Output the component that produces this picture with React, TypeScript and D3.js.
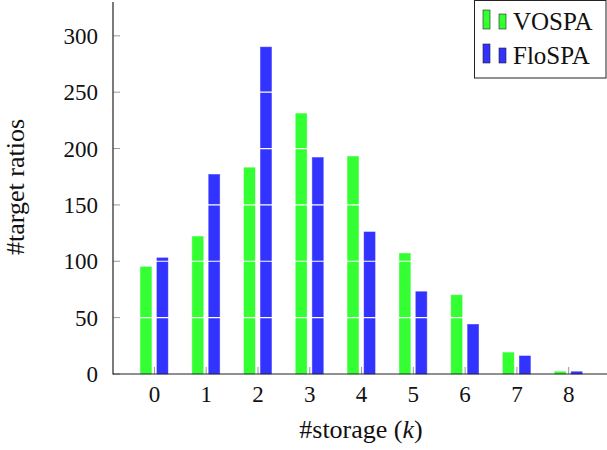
import React from "react";
import * as d3 from "d3";

const categories = [0, 1, 2, 3, 4, 5, 6, 7, 8];
const vospa = [95, 122, 183, 231, 193, 107, 70, 19, 2];
const flospa = [103, 177, 290, 192, 126, 73, 44, 16, 2];
const yTicks = [0, 50, 100, 150, 200, 250, 300];
const seriesNames = ["VOSPA", "FloSPA"];
const seriesColors = ["#33ff33", "#3333ff"];

const W = 607;
const H = 450;
const font = "Liberation Serif";

export default function App() {
  const x = d3.scaleLinear().domain([-0.8, 8.74]).range([113, 607]);
  const y = d3.scaleLinear().domain([0, 330]).range([374, 2]);
  const barW = 11;
  const offsets = [-8.5, 8];
  const series = [vospa, flospa];

  return (
    <svg width={W} height={H} style={{ position: "absolute", left: 0, top: 0 }}>
      <rect width={W} height={H} fill="#fff" />
      {series.map((vals, si) =>
        vals.map((v, i) => (
          <rect
            key={`${si}-${i}`}
            x={x(categories[i]) + offsets[si] - barW / 2}
            y={y(v)}
            width={barW}
            height={y(0) - y(v)}
            fill={seriesColors[si]}
            stroke={seriesColors[si]}
            strokeOpacity={0.6}
            strokeWidth={0.8}
          />
        ))
      )}
      {yTicks.slice(1).map((t) => (
        <line key={`g${t}`} x1={113} x2={607} y1={y(t)} y2={y(t)} stroke="#fff" strokeWidth={1.2} />
      ))}
      {yTicks.map((t) => (
        <g key={`yt${t}`}>
          <line x1={113} x2={120} y1={y(t)} y2={y(t)} stroke="#999" strokeWidth={1} />
          <text x={98} y={y(t)} dy="0.35em" textAnchor="end" fontFamily={font} fontSize={23} fill="#111">
            {t}
          </text>
        </g>
      ))}
      {categories.map((c) => (
        <g key={`xt${c}`}>
          <line x1={x(c)} x2={x(c)} y1={y(0)} y2={y(0) - 7} stroke="#999" strokeWidth={1} />
          <text x={x(c)} y={402} textAnchor="middle" fontFamily={font} fontSize={23} fill="#111">
            {c}
          </text>
        </g>
      ))}
      <line x1={113} x2={113} y1={2} y2={374.5} stroke="#222" strokeWidth={1.2} />
      <line x1={113} x2={607} y1={374} y2={374} stroke="#222" strokeWidth={1.2} />
      <text x={361} y={438} textAnchor="middle" fontFamily={font} fontSize={26} fill="#111">
        #storage (<tspan fontStyle="italic">k</tspan>)
      </text>
      <text
        transform={`translate(24,187) rotate(-90)`}
        textAnchor="middle"
        fontFamily={font}
        fontSize={26}
        fill="#111"
      >
        #target ratios
      </text>
      <rect x={474.5} y={0.5} width={131.5} height={77.5} fill="#fff" stroke="#222" strokeWidth={1} />
      {seriesNames.map((n, i) => {
        const cy = 21 + i * 34;
        return (
          <g key={n}>
            <rect x={483} y={cy - 11} width={7} height={19} fill={seriesColors[i]} stroke="#222" strokeWidth={0.6} />
            <rect x={499} y={cy - 7} width={7} height={15} fill={seriesColors[i]} stroke="#222" strokeWidth={0.6} />
            <text x={513} y={cy} dy="0.35em" fontFamily={font} fontSize={25} fill="#111">
              {n}
            </text>
          </g>
        );
      })}
    </svg>
  );
}
